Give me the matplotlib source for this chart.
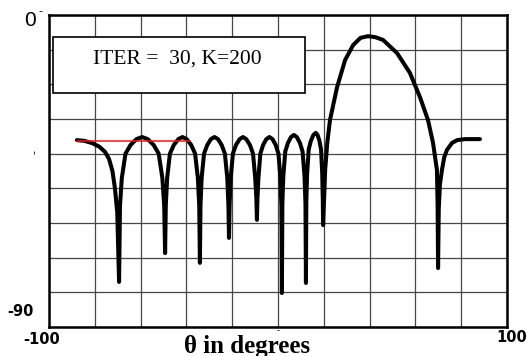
import matplotlib
matplotlib.use("Agg")
import matplotlib.pyplot as plt

# Array pattern after 30 iterations (K = 200)
theta_deg = [
    -87.8, -84.5, -81.0, -78.0, -75.5, -73.8, -72.3, -71.2, -70.2, -69.4,
    -69.0, -68.2, -66.6, -64.4, -61.8, -59.35, -56.9, -54.3, -52.1, -50.5, -49.7, -49.3,
    -49.0, -48.4, -47.2, -45.5, -43.5, -41.7, -39.9, -37.9, -36.2, -35.0, -34.4, -34.1,
    -33.85, -33.35, -32.3, -30.9, -29.3, -27.75, -26.2, -24.6, -23.2, -22.15, -21.65, -21.4,
    -21.15, -20.65, -19.7, -18.35, -16.75, -15.3, -13.85, -12.25, -10.9, -9.95, -9.45, -9.2,
    -8.98, -8.55, -7.7, -6.5, -5.1, -3.75, -2.4, -1.0, 0.2, 1.05, 1.48, 1.7,
    1.91, 2.33, 3.17, 4.33, 5.69, 6.95, 8.21, 9.57, 10.73, 11.57, 11.99, 12.2,
    12.37, 12.72, 13.4, 14.35, 15.47, 16.5, 17.27, 18.1, 18.8, 19.32, 19.57, 19.7,
    20.2, 20.6, 21.5, 22.7, 25.8, 29.3, 32.8, 36.0, 39.3, 42.5, 45.9,
    52.0, 57.6, 62.0, 65.5, 67.7, 69.4, 69.7, 69.9,
    70.2, 70.7, 71.6, 72.6, 73.8, 76.0, 78.2, 81.7, 88.2,
]
gain_db = [
    -36.1, -36.3, -37.0, -38.0, -39.5, -41.5, -45.0, -50.0, -57.0, -77.0,
    -55.0, -47.0, -40.0, -37.5, -35.8, -35.2, -35.8, -37.5, -40.0, -47.0, -55.0, -68.7,
    -55.0, -47.0, -40.0, -37.5, -35.8, -35.2, -35.8, -37.5, -40.0, -47.0, -55.0, -71.5,
    -55.0, -47.0, -40.0, -37.5, -35.8, -35.2, -35.8, -37.5, -40.0, -47.0, -55.0, -64.3,
    -55.0, -47.0, -40.0, -37.5, -35.8, -35.2, -35.8, -37.5, -40.0, -47.0, -53.0, -59.1,
    -53.0, -47.0, -40.0, -37.5, -35.8, -35.2, -35.8, -37.5, -40.0, -47.0, -55.0, -80.2,
    -54.4, -46.4, -39.4, -36.9, -35.2, -34.6, -35.2, -36.9, -39.4, -46.4, -54.4, -77.3,
    -53.8, -45.8, -38.8, -36.3, -34.6, -34.0, -34.6, -36.3, -38.8, -45.8, -53.8, -60.6,
    -52.0, -44.7, -37.0, -30.3, -20.8, -13.0, -8.7, -6.6, -6.1, -6.4, -7.2,
    -11.0, -16.7, -23.7, -30.3, -36.9, -44.7, -55.0, -73.0,
    -56.0, -49.0, -44.7, -41.0, -38.9, -36.9, -36.1, -35.8, -35.8,
]

# Desired sidelobe level
ref_theta = [-87.8, -38.4]
ref_db = [-36.3, -36.3]

W, H = 527, 356
fig = plt.figure(figsize=(W / 100, H / 100), dpi=100)
ax = fig.add_axes([49 / W, 1 - 327 / H, 458 / W, 312 / H])

ax.set_xlim(-100, 100)
ax.set_ylim(-90, 0)
ax.set_xticks(range(-100, 101, 20))
ax.set_yticks(range(-90, 1, 10))
ax.grid(True, color="#454545", linewidth=0.9)
ax.tick_params(length=0, labelbottom=False, labelleft=False)
for sp in ax.spines.values():
    sp.set_linewidth(1.8)
    sp.set_color("black")

ax.plot(theta_deg, gain_db, color="black", linewidth=2.9,
        solid_joinstyle="round", solid_capstyle="round", zorder=3)
ax.plot(ref_theta, ref_db, color="#ff1010", linewidth=1.1, zorder=4)

# Annotation box
box_left, box_top, box_right, box_bottom = 53, 37, 305, 93
fig.patches.append(plt.Rectangle((box_left / W, 1 - box_bottom / H),
                                 (box_right - box_left) / W,
                                 (box_bottom - box_top) / H,
                                 transform=fig.transFigure, facecolor="white",
                                 edgecolor="black", linewidth=1.2, zorder=5))
fig.text(177 / W, 1 - 59 / H, "ITER =  30, K=200", ha="center", va="center",
         family="Liberation Serif", fontsize=15.5, zorder=6)


def ftext(x, y, s, **kw):
    fig.text(x / W, 1 - y / H, s, ha="center", va="center", **kw)


# Axis labels
ftext(30, 20, "0", family="Liberation Sans", fontsize=15)
ftext(40, 11, "-", family="DejaVu Sans", fontsize=8)
ftext(35, 152, "-", family="DejaVu Sans", fontsize=8, rotation=90)
ftext(20, 312, "-90", family="DejaVu Sans", fontsize=10.5, weight="bold")
ftext(42, 339, "-100", family="DejaVu Sans", fontsize=10.5, weight="bold")
ftext(512, 338, "100", family="DejaVu Sans", fontsize=10.5, weight="bold")
ftext(278, 331, "-", family="DejaVu Sans", fontsize=6)
ftext(247, 346, "θ in degrees", family="Liberation Serif", fontsize=18,
      weight="bold")

fig.savefig("out.png", dpi=100)
